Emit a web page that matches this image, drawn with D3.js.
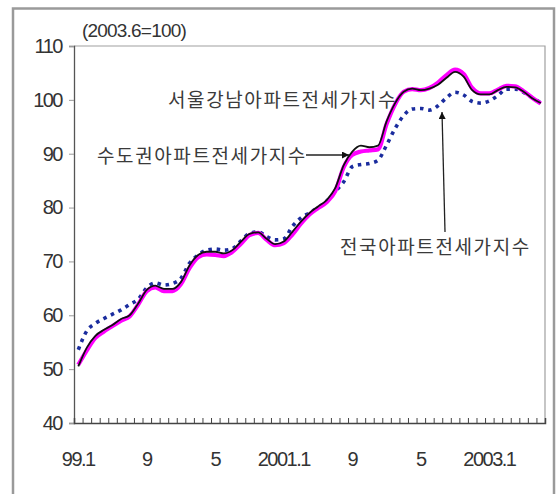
<!DOCTYPE html>
<html><head><meta charset="utf-8">
<script src="https://cdn.jsdelivr.net/npm/d3@7"></script>
<style>
html,body{margin:0;padding:0;background:#fff;}
svg{display:block;}
</style></head>
<body>
<svg id="c" width="559" height="494"></svg>
<script>
const months = ["1999.1","1999.2","1999.3","1999.4","1999.5","1999.6","1999.7","1999.8","1999.9","1999.10","1999.11","1999.12",
"2000.1","2000.2","2000.3","2000.4","2000.5","2000.6","2000.7","2000.8","2000.9","2000.10","2000.11","2000.12",
"2001.1","2001.2","2001.3","2001.4","2001.5","2001.6","2001.7","2001.8","2001.9","2001.10","2001.11","2001.12",
"2002.1","2002.2","2002.3","2002.4","2002.5","2002.6","2002.7","2002.8","2002.9","2002.10","2002.11","2002.12",
"2003.1","2003.2","2003.3","2003.4","2003.5","2003.6","2003.7"];
const gangnam = [50.8,53.5,55.8,57.0,58.0,59.0,59.8,62.0,64.5,65.2,64.5,64.5,65.8,68.8,70.8,71.3,71.2,71.0,71.8,73.3,74.9,75.3,74.0,73.0,73.4,75.0,77.0,78.7,79.9,81.0,83.0,87.5,89.8,90.4,90.6,90.8,95.5,99.2,101.5,102.0,101.8,102.2,103.2,104.6,105.6,104.8,102.2,101.2,101.2,101.9,102.6,102.5,101.6,100.4,99.3];
const capital = [50.5,54.0,56.2,57.3,58.2,59.3,60.0,62.2,64.7,65.5,64.9,64.9,66.2,69.3,71.2,71.8,71.8,71.5,72.1,73.7,75.1,75.4,74.2,73.2,73.7,75.5,77.4,79.0,80.2,81.4,83.6,87.9,90.4,91.5,91.2,91.5,96.0,99.4,101.5,102.1,101.8,102.1,102.8,104.1,105.2,104.3,101.8,101.0,101.0,101.8,102.4,102.3,101.5,100.3,99.4];
const national = [53.6,57.1,58.5,59.4,60.2,61.0,62.0,63.0,65.1,66.0,65.6,65.9,66.9,69.7,71.2,72.1,72.3,72.1,72.4,73.8,75.2,75.5,74.6,74.0,74.2,76.5,78.1,79.0,80.0,81.2,83.0,84.8,87.6,88.0,88.2,88.8,91.6,94.7,97.1,98.3,98.4,98.1,98.9,100.4,101.4,100.9,99.7,99.4,99.8,100.8,102.0,102.0,101.4,100.4,99.5];
const yTicks = [40,50,60,70,80,90,100,110];
const tickMonths = ["1999.1","1999.9","2000.5","2001.1","2001.9","2002.5","2003.1"];
const tickLabels = ["99.1","9","5","2001.1","9","5","2003.1"];
const seriesNames = ["서울강남아파트전세가지수","수도권아파트전세가지수","전국아파트전세가지수"];
const unitLabel = "(2003.6=100)";

const svg = d3.select("#c");
const L = 74, R = 545, T = 46, B = 423;
const x = d3.scaleBand().domain(months).range([L, R]).padding(0);
const xi = d3.scaleLinear().domain([0, months.length]).range([L, R]);
const y = d3.scaleLinear().domain([40, 110]).range([B, T]);
const cx = m => x(m) + x.bandwidth() / 2;
const numFont = "'Liberation Sans', Arial, sans-serif";
const krFont = "'Noto Sans CJK KR', sans-serif";

// outer frame
svg.append("rect").attr("x", 13).attr("y", 8.5).attr("width", 541).attr("height", 500)
  .attr("fill", "none").attr("stroke", "#9a9a9a").attr("stroke-width", 2.5);

// plot frame top/right
svg.append("path").attr("d", `M${L},${T}H${R}V${B}`).attr("fill", "none")
  .attr("stroke", "#a0a0a0").attr("stroke-width", 1.2);

// y axis
const yAxis = svg.append("g").attr("transform", `translate(${L},0)`)
  .call(d3.axisLeft(y).tickValues(yTicks).tickSize(5).tickPadding(7).tickFormat(d3.format("d")));
yAxis.select(".domain").attr("stroke", "#555").attr("stroke-width", 1.3);
yAxis.selectAll(".tick line").attr("stroke", "#999");
yAxis.selectAll("text").attr("font-family", numFont).attr("font-size", 20)
  .attr("letter-spacing", "-1.5").attr("fill", "#333");

// x ticks (month boundaries)
const xTickAxis = svg.append("g").attr("transform", `translate(0,${B})`)
  .call(d3.axisBottom(xi).tickValues(d3.range(0, months.length + 1)).tickSize(-5).tickFormat(""));
xTickAxis.select(".domain").attr("stroke", "#444").attr("stroke-width", 1.5);
xTickAxis.selectAll(".tick line").attr("stroke", "#444");

// x labels
const xLab = svg.append("g").attr("transform", `translate(0,${B})`)
  .call(d3.axisBottom(x).tickValues(tickMonths).tickSize(0).tickPadding(29)
    .tickFormat((d) => tickLabels[tickMonths.indexOf(d)]));
xLab.select(".domain").remove();
xLab.selectAll("text").attr("font-family", numFont).attr("font-size", 20)
  .attr("letter-spacing", "-1.5").attr("fill", "#333");

// unit label
svg.append("text").attr("x", 82).attr("y", 37).text(unitLabel)
  .attr("font-family", numFont).attr("font-size", 19).attr("letter-spacing", "-0.8").attr("fill", "#333");

// lines
const line = d3.line().x((d, i) => cx(months[i])).y(d => y(d)).curve(d3.curveMonotoneX);
svg.append("path").datum(national).attr("d", line).attr("fill", "none")
  .attr("stroke", "#1a2c9e").attr("stroke-width", 3.6).attr("stroke-dasharray", "3.5,4.8");
svg.append("path").datum(gangnam).attr("d", line).attr("fill", "none")
  .attr("stroke", "#ff00ff").attr("stroke-width", 4.2);
svg.append("path").datum(capital).attr("d", line).attr("fill", "none")
  .attr("stroke", "#111").attr("stroke-width", 1.8);

// annotations
function label(txt, xx, yy) {
  svg.append("text").attr("x", xx).attr("y", yy).text(txt)
    .attr("font-family", krFont).attr("font-size", 19).attr("fill", "#3a3a3a")
    .attr("letter-spacing", "1.6").attr("dominant-baseline", "central");
}
label(seriesNames[0], 168, 98);
label(seriesNames[1], 97, 154);
label(seriesNames[2], 340, 245);

svg.append("defs").append("marker").attr("id", "ah").attr("viewBox", "0 0 10 10")
  .attr("refX", 10).attr("refY", 5).attr("markerWidth", 10).attr("markerHeight", 7)
  .attr("markerUnits", "userSpaceOnUse").attr("orient", "auto")
  .append("path").attr("d", "M0,0L10,5L0,10Z").attr("fill", "#111");
svg.append("line").attr("x1", 306).attr("y1", 155).attr("x2", 349).attr("y2", 155)
  .attr("stroke", "#222").attr("stroke-width", 1.3).attr("marker-end", "url(#ah)");
svg.append("line").attr("x1", 445).attr("y1", 232).attr("x2", 442).attr("y2", 112)
  .attr("stroke", "#222").attr("stroke-width", 1.3).attr("marker-end", "url(#ah)");
</script>
</body></html>
